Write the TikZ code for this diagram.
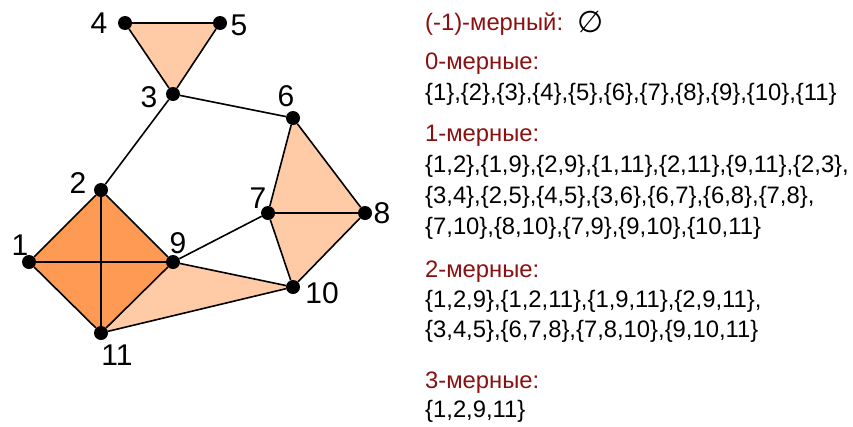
\documentclass[tikz,border=0pt]{standalone}
\usepackage{fontspec}
\setmainfont{Liberation Sans}
\newfontfamily\symfont{DejaVu Sans}
\usepackage{xcolor}
\definecolor{cHead}{HTML}{8B1010}
\definecolor{cCell}{HTML}{FF9A55}
\definecolor{cFace}{HTML}{FFCBA6}
\usepackage{tikz}
\usetikzlibrary{backgrounds}
\tikzset{
  vertex/.style={circle,fill=black,inner sep=0pt,minimum size=14pt},
  vlabel/.style={inner sep=0pt,font=\fontsize{30}{36}\selectfont},
  edge/.style={line width=1.6pt,draw=black},
  face/.style={fill=cFace},
  cell/.style={fill=cCell},
  head/.style={anchor=base west,inner sep=0pt,text=cHead,
    font=\fontsize{23.8}{28}\selectfont},
  simplices/.style={anchor=base west,inner sep=0pt,
    font=\fontsize{23.8}{28}\selectfont},
}

\begin{document}
\begin{tikzpicture}[x=1pt,y=-1pt]
  \useasboundingbox (0,0) rectangle (853,426);
  % vertices and their numbers
  \foreach \n/\x/\y/\dx/\dy in {1/29/262/-9/-17, 2/101/190/-23/-7,
      3/173/94/-24/3, 4/125/23/-26/0, 5/220/23/19/2, 6/293/118/-7/-22,
      7/268/213/-10/-15, 8/365/213/17/0, 9/173/262/5/-19,
      10/293/287/29/6, 11/101/333/16/22}{
    \node[vertex] (v\n) at (\x,\y) {};
    \node[vlabel] (l\n) at ([shift={(\dx,\dy)}]v\n) {\n};
  }
  \begin{scope}[on background layer]
    \fill[cell] (v1.center) -- (v2.center) -- (v9.center) -- (v11.center) -- cycle;
    \fill[face] (v3.center) -- (v4.center) -- (v5.center) -- cycle;
    \fill[face] (v6.center) -- (v7.center) -- (v8.center) -- cycle;
    \fill[face] (v7.center) -- (v8.center) -- (v10.center) -- cycle;
    \fill[face] (v9.center) -- (v10.center) -- (v11.center) -- cycle;
    \foreach \a/\b in {1/2,1/9,2/9,1/11,2/11,9/11,2/3,3/4,3/5,4/5,3/6,
        6/7,6/8,7/8,7/10,8/10,7/9,9/10,10/11}
      \draw[edge] (v\a) -- (v\b);
  \end{scope}
  % list of simplices
  \node[head] (h-1) at (425,30) {(-1)-мерный:};
  \node[simplices,anchor=base,font=\fontsize{30}{36}\selectfont] (empty) at (591,32) {\symfont ∅};
  \node[head] (h0) at (425,69) {0-мерные:};
  \node[simplices] (s0) at (425,100) {\{1\},\{2\},\{3\},\{4\},\{5\},\{6\},\{7\},\{8\},\{9\},\{10\},\{11\}};
  \node[head] (h1) at (425,141) {1-мерные:};
  \node[simplices] (s1a) at (425,172) {\{1,2\},\{1,9\},\{2,9\},\{1,11\},\{2,11\},\{9,11\},\{2,3\},};
  \node[simplices] (s1b) at (425,203) {\{3,4\},\{2,5\},\{4,5\},\{3,6\},\{6,7\},\{6,8\},\{7,8\},};
  \node[simplices] (s1c) at (425,234) {\{7,10\},\{8,10\},\{7,9\},\{9,10\},\{10,11\}};
  \node[head] (h2) at (425,277) {2-мерные:};
  \node[simplices] (s2a) at (425,307) {\{1,2,9\},\{1,2,11\},\{1,9,11\},\{2,9,11\},};
  \node[simplices] (s2b) at (425,337) {\{3,4,5\},\{6,7,8\},\{7,8,10\},\{9,10,11\}};
  \node[head] (h3) at (425,388) {3-мерные:};
  \node[simplices] (s3) at (425,417) {\{1,2,9,11\}};
\end{tikzpicture}
\end{document}
